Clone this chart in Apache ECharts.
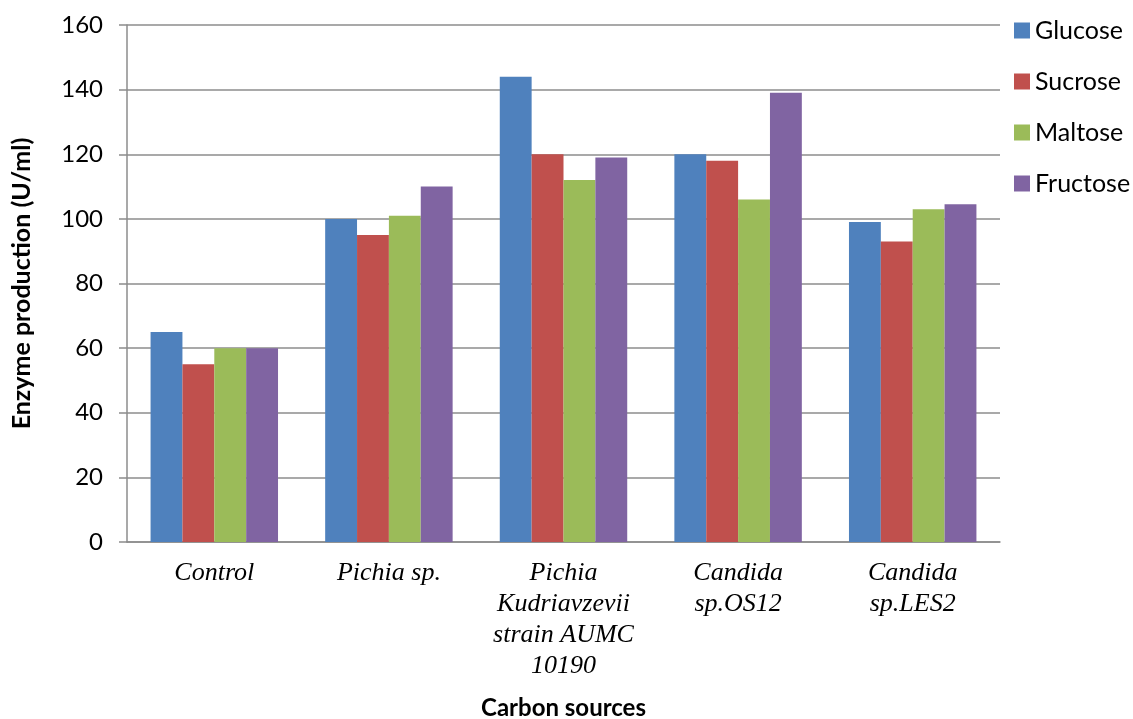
<!DOCTYPE html>
<html>
<head>
<meta charset="utf-8">
<script src="https://cdn.jsdelivr.net/npm/echarts@6/dist/echarts.min.js"></script>
<style>
  html, body { margin: 0; padding: 0; background: #fff; }
  #chart { width: 1133px; height: 719px; }
</style>
</head>
<body>
<div id="chart"></div>
<script>
// strains on the x axis
const categories = ['Control', 'Pichia sp.', 'Pichia\nKudriavzevii\nstrain AUMC\n10190', 'Candida\nsp.OS12', 'Candida\nsp.LES2'];
const seriesNames = ['Glucose', 'Sucrose', 'Maltose', 'Fructose'];
const glucose = [65, 100, 144, 120, 99];
const sucrose = [55, 95, 120, 118, 93];
const maltose = [60, 101, 112, 106, 103];
const fructose = [60, 110, 119, 139, 104.5];
const colors = ['#4F81BD', '#C0504D', '#9BBB59', '#8064A2'];

const chart = echarts.init(document.getElementById('chart'));
const gridColor = '#8c8c8c';

const option = {
    animation: false,
    color: colors,
    textStyle: { fontFamily: 'Lato' },
    grid: { left: 127, right: 133, top: 25, bottom: 177, outerBoundsMode: 'none' },
    legend: {
        orient: 'vertical',
        left: 1009,
        top: 13,
        icon: 'rect',
        itemWidth: 16,
        itemHeight: 16,
        itemGap: 26,
        textStyle: { fontSize: 25, color: '#000', fontFamily: 'Lato' },
        data: seriesNames
    },
    xAxis: {
        type: 'category',
        data: categories,
        name: 'Carbon sources',
        nameLocation: 'middle',
        nameGap: 154,
        nameTextStyle: { fontSize: 24, fontWeight: 'bold', color: '#000', fontFamily: 'Lato' },
        axisLine: { lineStyle: { color: gridColor, width: 1.5 } },
        axisTick: { show: false },
        axisLabel: {
            margin: 16,
            fontSize: 26,
            lineHeight: 31,
            fontStyle: 'italic',
            fontFamily: 'Liberation Serif',
            color: '#000',
            interval: 0,
            verticalAlign: 'top'
        }
    },
    yAxis: {
        type: 'value',
        min: 0,
        max: 160,
        interval: 20,
        name: 'Enzyme production (U/ml)',
        nameLocation: 'middle',
        nameGap: 93,
        nameTextStyle: { fontSize: 25, fontWeight: 'bold', color: '#000', fontFamily: 'Lato' },
        axisLine: { show: true, lineStyle: { color: gridColor, width: 1.5 } },
        axisTick: { show: true, length: 8, lineStyle: { color: gridColor, width: 1.5 } },
        splitLine: { lineStyle: { color: gridColor, width: 1.5 } },
        axisLabel: { fontSize: 24, color: '#000', margin: 24, fontFamily: 'Lato' }
    },
    series: [
        { name: seriesNames[0], type: 'bar', data: glucose },
        { name: seriesNames[1], type: 'bar', data: sucrose },
        { name: seriesNames[2], type: 'bar', data: maltose },
        { name: seriesNames[3], type: 'bar', data: fructose }
    ].map(s => Object.assign(s, { barGap: '0%', barCategoryGap: '27%' }))
};

chart.setOption(option);
</script>
</body>
</html>
